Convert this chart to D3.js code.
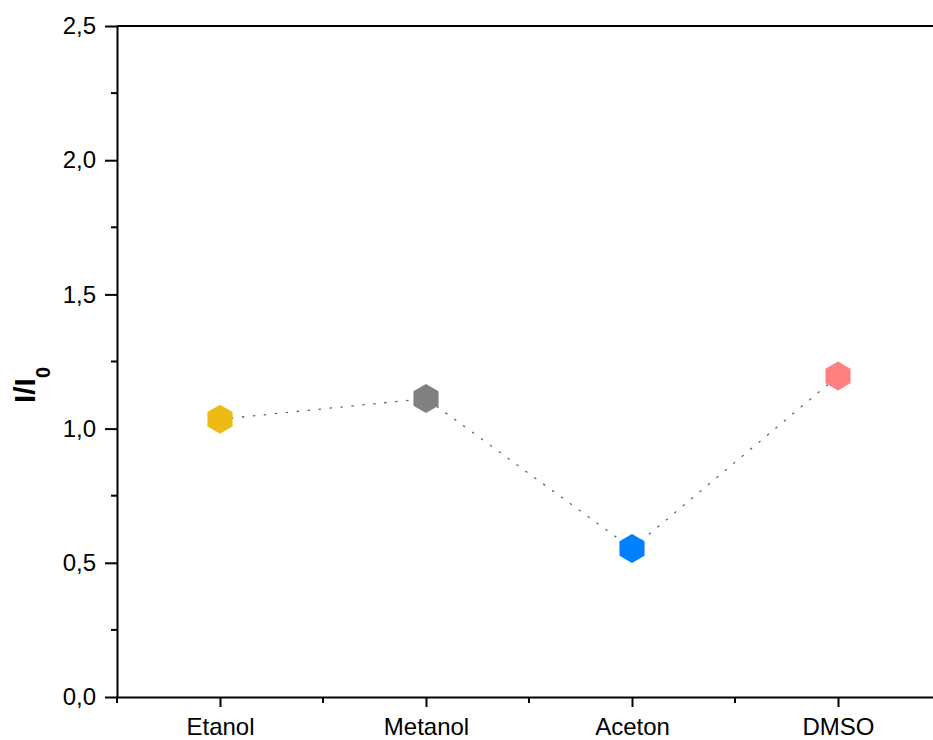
<!DOCTYPE html>
<html><head><meta charset="utf-8">
<script src="https://cdn.jsdelivr.net/npm/d3@7"></script>
<style>body{margin:0;background:#fff}svg{display:block}text{font-family:"Liberation Sans",Arial,sans-serif}</style>
</head><body>
<svg id="c" width="933" height="740"></svg>
<script>
const categories = ["Etanol","Metanol","Aceton","DMSO"];
const values = [1.035, 1.112, 0.553, 1.196];
const colors = ["#EDBA16","#808080","#0080FF","#FF8080"];
const yTicks = [0,0.5,1.0,1.5,2.0,2.5];
const yTickLabels = ["0,0","0,5","1,0","1,5","2,0","2,5"];

const svg = d3.select("#c");
const L=117, T=26, B=697, R=941;
const x = d3.scaleLinear().domain([0.5,4.5]).range([L,R]);
const y = d3.scaleLinear().domain([0,2.5]).range([B,T]);

// top frame line
svg.append("line").attr("x1",L).attr("x2",933).attr("y1",T).attr("y2",T).attr("stroke","#000").attr("stroke-width",2);

// y axis
const yAx = svg.append("g").attr("transform",`translate(${L},0)`)
  .call(d3.axisLeft(y).tickValues(yTicks).tickFormat((d,i)=>yTickLabels[i]).tickSize(12).tickPadding(9).tickSizeOuter(0));
yAx.select(".domain").attr("stroke-width",2);
yAx.selectAll(".tick line").attr("stroke-width",2);
yAx.selectAll("text").attr("font-size",24).attr("fill","#000");
const yMinor = d3.range(0.25,2.5,0.5);
svg.append("g").selectAll("line").data(yMinor).join("line")
  .attr("x1",L-6).attr("x2",L).attr("y1",d=>y(d)).attr("y2",d=>y(d)).attr("stroke","#000").attr("stroke-width",2);

// x axis
const xAx = svg.append("g").attr("transform",`translate(0,${B})`)
  .call(d3.axisBottom(x).tickValues([1,2,3,4]).tickFormat((d,i)=>categories[i]).tickSize(10).tickPadding(11).tickSizeOuter(0));
xAx.select(".domain").attr("stroke-width",2);
xAx.selectAll(".tick line").attr("stroke-width",2);
xAx.selectAll("text").attr("font-size",24).attr("fill","#000");
svg.append("g").selectAll("line").data([0.5,1.5,2.5,3.5]).join("line")
  .attr("x1",d=>x(d)).attr("x2",d=>x(d)).attr("y1",B).attr("y2",B+6).attr("stroke","#000").attr("stroke-width",2);

// connecting dotted line
const pts = values.map((v,i)=>[x(i+1),y(v)]);
svg.append("path").attr("d",d3.line()(pts)).attr("fill","none")
  .attr("stroke","#666").attr("stroke-width",1.3).attr("stroke-dasharray","2.5 8.5");

// hexagon markers (pointy top)
const r=14.5;
const hex = d3.range(6).map(k=>{const a=Math.PI/2+k*Math.PI/3;return [r*Math.cos(a),r*Math.sin(a)];});
svg.append("g").selectAll("path").data(values).join("path")
  .attr("transform",(d,i)=>`translate(${x(i+1)},${y(d)})`)
  .attr("d","M"+hex.map(p=>p.join(",")).join("L")+"Z")
  .attr("fill",(d,i)=>colors[i]);

// y label
const yl = svg.append("text").attr("transform","translate(35,385) rotate(-90)")
  .attr("text-anchor","middle").attr("font-size",30).attr("font-weight","bold");
yl.append("tspan").text("I/I");
yl.append("tspan").attr("font-size",20).attr("dy",15).text("0");
</script>
</body></html>
